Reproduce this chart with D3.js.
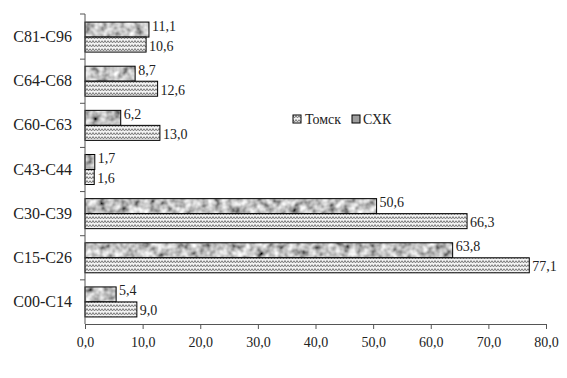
<!DOCTYPE html>
<html>
<head>
<meta charset="utf-8">
<script src="https://cdn.jsdelivr.net/npm/d3@7"></script>
<style>
  body { margin: 0; background: #fff; }
  text { font-family: "Liberation Serif", "Times New Roman", serif; fill: #222; }
</style>
</head>
<body>
<div id="chart-area"></div>
<script>
// SVG Size
let width = 567,
	height = 378;

// Data (top to bottom as in the picture)
const categories = ["C81-C96", "C64-C68", "C60-C63", "C43-C44", "C30-C39", "C15-C26", "C00-C14"];
const shkValues = [11.1, 8.7, 6.2, 1.7, 50.6, 63.8, 5.4];
const tomskValues = [10.6, 12.6, 13.0, 1.6, 66.3, 77.1, 9.0];
const seriesNames = ["Томск", "СХК"];
const xTicks = [0, 10, 20, 30, 40, 50, 60, 70, 80];

const fmt = v => d3.format(".1f")(v).replace(".", ",");

let svg = d3.select("#chart-area")
	.append("svg")
	.attr("width", width)
	.attr("height", height);

// Fill textures
const defs = svg.append("defs");

const zig = defs.append("pattern")
	.attr("id", "zigzag")
	.attr("patternUnits", "userSpaceOnUse")
	.attr("width", 6)
	.attr("height", 4);
zig.append("rect").attr("width", 6).attr("height", 4).attr("fill", "#f4f4f4");
zig.append("polyline")
	.attr("points", "0,0.5 1.5,3 3,0.5 4.5,3 6,0.5")
	.attr("fill", "none")
	.attr("stroke", "#7a7a7a")
	.attr("stroke-width", 1);

const mott = defs.append("filter")
	.attr("id", "mottled")
	.attr("x", 0).attr("y", 0).attr("width", 1).attr("height", 1);
mott.append("feTurbulence")
	.attr("type", "fractalNoise")
	.attr("baseFrequency", 0.14)
	.attr("numOctaves", 2)
	.attr("seed", 5);
mott.append("feColorMatrix")
	.attr("type", "matrix")
	.attr("values", "1.4 0 0 0 -0.16  1.4 0 0 0 -0.16  1.4 0 0 0 -0.16  0 0 0 0 1");
mott.append("feComposite")
	.attr("operator", "in")
	.attr("in2", "SourceGraphic");

// Scales
const x = d3.scaleLinear()
	.domain([0, 80])
	.range([85, 546]);

const y = d3.scaleBand()
	.domain(categories)
	.range([15, 324])
	.paddingInner(0.32)
	.paddingOuter(0.16);

const half = y.bandwidth() / 2;

// Bars
const groups = svg.selectAll(".cat")
	.data(categories)
	.enter()
	.append("g")
	.attr("class", "cat");

// СХК (upper bar)
groups.append("rect")
	.attr("x", x(0))
	.attr("y", d => y(d))
	.attr("width", (d, i) => x(shkValues[i]) - x(0))
	.attr("height", half)
	.attr("fill", "#999")
	.attr("filter", "url(#mottled)");
groups.append("rect")
	.attr("x", x(0))
	.attr("y", d => y(d))
	.attr("width", (d, i) => x(shkValues[i]) - x(0))
	.attr("height", half)
	.attr("fill", "none")
	.attr("stroke", "#000")
	.attr("stroke-width", 1);

// Томск (lower bar)
groups.append("rect")
	.attr("x", x(0))
	.attr("y", d => y(d) + half)
	.attr("width", (d, i) => x(tomskValues[i]) - x(0))
	.attr("height", half)
	.attr("fill", "url(#zigzag)")
	.attr("stroke", "#000")
	.attr("stroke-width", 1);

// Value labels
groups.append("text")
	.attr("x", (d, i) => x(shkValues[i]) + 3)
	.attr("y", d => y(d) + half / 2 + 1)
	.attr("font-size", 14)
	.text((d, i) => fmt(shkValues[i]));
groups.append("text")
	.attr("x", (d, i) => x(tomskValues[i]) + 3)
	.attr("y", d => y(d) + half + half / 2 + 6)
	.attr("font-size", 14)
	.text((d, i) => fmt(tomskValues[i]));

// Axes
const xAxis = d3.axisBottom(x).tickValues(xTicks).tickSize(5).tickFormat(fmt);
const gx = svg.append("g")
	.attr("transform", "translate(0,324)")
	.call(xAxis);
gx.select(".domain").attr("stroke", "#555");
gx.selectAll(".tick line").attr("stroke", "#555");
gx.selectAll("text")
	.attr("font-size", 14)
	.attr("font-family", "Liberation Serif")
	.attr("fill", "#222")
	.attr("dy", "1.1em");

const gy = svg.append("g").attr("transform", "translate(85,0)");
gy.append("line")
	.attr("x1", 0).attr("x2", 0)
	.attr("y1", y.range()[0] - 1).attr("y2", y.range()[1])
	.attr("stroke", "#555");
// ticks at category boundaries
const bounds = [y.range()[0] - 1].concat(categories.slice(1).map(c => y(c) - y.step() * y.paddingInner() / 2));
gy.selectAll(".bt")
	.data(bounds)
	.enter()
	.append("line")
	.attr("x1", -5).attr("x2", 0)
	.attr("y1", d => d).attr("y2", d => d)
	.attr("stroke", "#555");
gy.selectAll(".cl")
	.data(categories)
	.enter()
	.append("text")
	.attr("x", -13)
	.attr("y", d => y(d) + half + 5)
	.attr("text-anchor", "end")
	.attr("font-size", 16)
	.text(d => d);

// Legend
const legend = svg.append("g").attr("transform", "translate(293,115)");
legend.append("rect")
	.attr("width", 8).attr("height", 8)
	.attr("fill", "url(#zigzag)")
	.attr("stroke", "#000");
legend.append("text")
	.attr("x", 12).attr("y", 9)
	.attr("font-size", 14)
	.text(seriesNames[0]);
legend.append("rect")
	.attr("x", 59).attr("width", 8).attr("height", 8)
	.attr("fill", "#9e9e9e")
	.attr("stroke", "#000");
legend.append("text")
	.attr("x", 70).attr("y", 9)
	.attr("font-size", 14)
	.text(seriesNames[1]);
</script>
</body>
</html>
